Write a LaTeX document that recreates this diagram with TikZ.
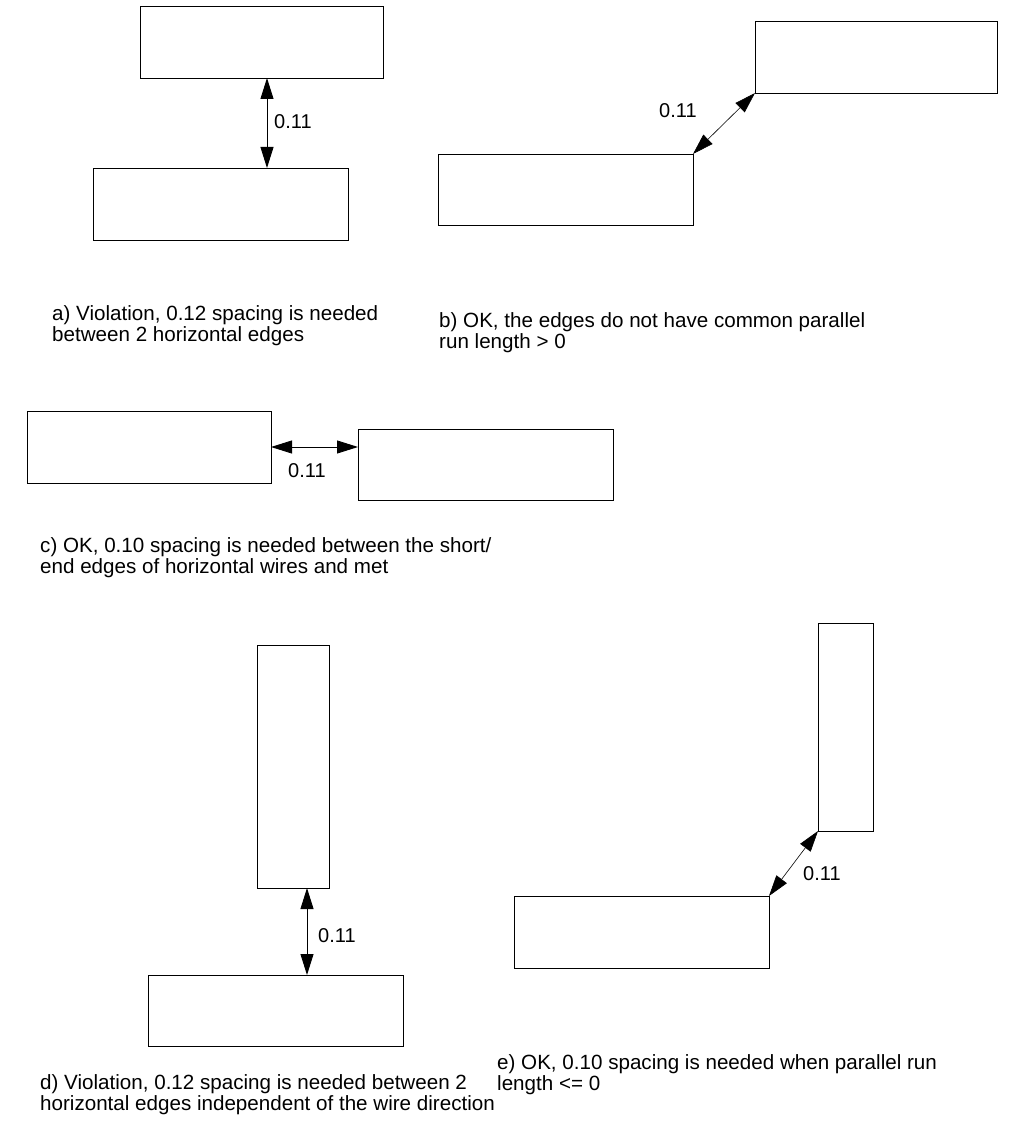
\documentclass[tikz,border=0pt]{standalone}
\usepackage{fontspec}
\setmainfont{Liberation Sans}
\usetikzlibrary{arrows.meta}
\begin{document}
\begin{tikzpicture}[x=1pt,y=-1pt,
  box/.style={draw=black, line width=0.9pt, inner sep=0pt, outer sep=0pt, fill=white},
  dimline/.style={line width=0.9pt, {Triangle[length=21pt,width=13pt]}-{Triangle[length=21pt,width=13pt]}},
  dimthin/.style={line width=0.6pt, {Triangle[length=21pt,width=13pt]}-{Triangle[length=21pt,width=13pt]}},
  val/.style={inner sep=0pt, anchor=base west, font=\fontsize{20}{21}\selectfont},
  captxt/.style={inner sep=0pt, anchor=base west, font=\fontsize{20.6}{21}\selectfont}]
\useasboundingbox (0,0) rectangle (1013,1142);
% a)
\node[box, minimum width=243pt, minimum height=72pt] (a1) at (261.5,42) {};
\node[box, minimum width=255pt, minimum height=72pt] (a2) at (220.5,204) {};
\draw[dimline] (a1.south -| 267,0) -- (a2.north -| 267,0);
\node[val] (la) at (274,129) {0.11};
\node[captxt] (ta1) at (52,320) {a) Violation, 0.12 spacing is needed};
\node[captxt] (ta2) at (52,341) {between 2 horizontal edges};
% b)
\node[box, minimum width=242pt, minimum height=72pt] (b1) at (876,57) {};
\node[box, minimum width=255pt, minimum height=71pt] (b2) at (565.5,189.5) {};
\draw[dimthin] (b2.north east) -- (b1.south west);
\node[val] (lb) at (659,118) {0.11};
\node[captxt] (tb1) at (439,327) {b) OK, the edges do not have common parallel};
\node[captxt] (tb2) at (439,348) {run length > 0};
% c)
\node[box, minimum width=244pt, minimum height=72pt] (c1) at (149,447) {};
\node[box, minimum width=255pt, minimum height=71pt] (c2) at (485.5,464.5) {};
\draw[dimline] (c1.east) -- (c1.east -| c2.west);
\node[val] (lc) at (288,477) {0.11};
\node[captxt] (tc1) at (40,552) {c) OK, 0.10 spacing is needed between the short/};
\node[captxt] (tc2) at (40,573) {end edges of horizontal wires and met};
% d)
\node[box, minimum width=72pt, minimum height=243pt] (d1) at (293,766.5) {};
\node[box, minimum width=255pt, minimum height=71pt] (d2) at (275.5,1010.5) {};
\draw[dimline] (d1.south -| 307,0) -- (d2.north -| 307,0);
\node[val] (ld) at (318,942) {0.11};
\node[captxt] (td1) at (40,1089) {d) Violation, 0.12 spacing is needed between 2};
\node[captxt] (td2) at (40,1110) {horizontal edges independent of the wire direction};
% e)
\node[box, minimum width=55pt, minimum height=208pt] (e1) at (845.5,727) {};
\node[box, minimum width=255pt, minimum height=72pt] (e2) at (641.5,932) {};
\draw[dimthin] (e2.north east) -- (e1.south west);
\node[val] (le) at (803,880) {0.11};
\node[captxt] (te1) at (497,1069) {e) OK, 0.10 spacing is needed when parallel run};
\node[captxt] (te2) at (497,1090) {length <= 0};
\end{tikzpicture}
\end{document}
